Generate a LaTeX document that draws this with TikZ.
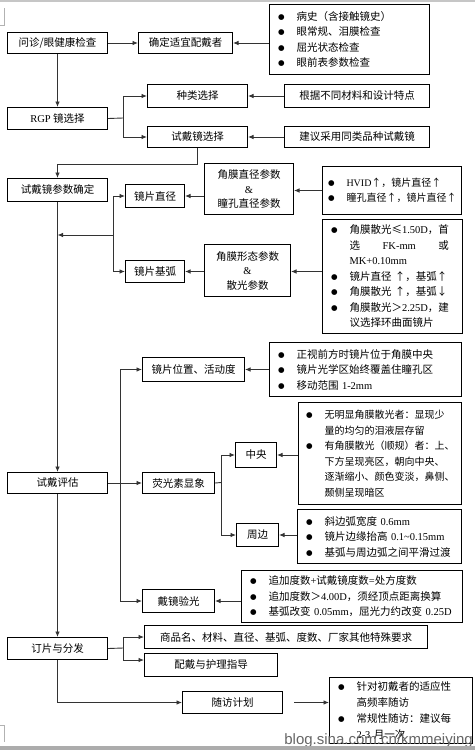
\documentclass[tikz,border=0pt]{standalone}
\usepackage{fontspec}
\setmainfont{Noto Sans CJK SC}
\newfontfamily\tmf{Liberation Serif}
\newfontfamily\dvf{DejaVu Sans}
\newfontfamily\wmf{Liberation Sans}
\usetikzlibrary{arrows.meta}
\newcommand\tm[1]{{\tmf #1}}
\newlength\jl
\newcommand\bul{\makebox[19pt][l]{\hspace{0.5pt}\raisebox{1pt}{\dvf\fontsize{7.5}{7.5}\selectfont ●}}}
\newcommand\ind{\hspace*{19pt}}
\tikzset{
  box/.style={draw=black, line width=1pt, inner sep=0pt, anchor=north west, align=center,
    font=\fontsize{10.5}{15.5}\selectfont},
  blist/.style={box, align=left, inner xsep=8pt},
  conn/.style={draw=black!80, line width=0.9pt},
  arr/.style={conn, -{Latex[length=5.5pt,width=4.5pt]}},
}
\begin{document}
\begin{tikzpicture}[x=1pt,y=-1pt]
\useasboundingbox (0,0) rectangle (475,750);
\clip (0,0) rectangle (475,750);
\fill[white] (0,0) rectangle (475,750);
% page artefacts
\draw[gray!45, line width=1.5pt] (0,0.75) -- (475,0.75);
\draw[gray!60, line width=0.6pt] (4,8) -- (4,25) -- (0,25);
\draw[gray!60, line width=0.6pt] (0,725) -- (4,725) -- (4,742);

% boxes
\node[box, minimum width=100pt, minimum height=21pt] (A) at (7,32) {问诊/眼健康检查};
\node[box, minimum width=94pt, minimum height=21pt] (B) at (138,32) {确定适宜配戴者};
\node[blist, text width=144pt, minimum height=70pt] (C) at (269,4)
  {\bul 病史（含接触镜史）\\ \bul 眼常规、泪膜检查\\ \bul 屈光状态检查\\ \bul 眼前表参数检查};
\node[box, minimum width=100pt, minimum height=22pt] (D) at (7,107) {\tm{RGP} 镜选择};
\node[box, minimum width=100pt, minimum height=23pt] (E) at (147,84) {种类选择};
\node[box, minimum width=100pt, minimum height=21pt] (F) at (147,126) {试戴镜选择};
\node[box, minimum width=145pt, minimum height=23pt] (G) at (284,84) {根据不同材料和设计特点};
\node[box, minimum width=145pt, minimum height=21pt] (H) at (284,126) {建议采用同类品种试戴镜};
\node[box, minimum width=100pt, minimum height=23pt] (I) at (7,178) {试戴镜参数确定};
\node[box, minimum width=59pt, minimum height=23pt] (J) at (125,184) {镜片直径};
\node[box, minimum width=59pt, minimum height=22pt] (K) at (125,260) {镜片基弧};
\node[box, minimum width=89pt, minimum height=51pt, font=\fontsize{10.5}{14.5}\selectfont] (L) at (204,163)
  {角膜直径参数\\ \tm{\&}\\ 瞳孔直径参数};
\node[blist, inner xsep=5pt, text width=129pt, minimum height=48pt, font=\fontsize{10}{15.5}\selectfont] (M) at (322,166)
  {\bul \tm{HVID}↑，镜片直径↑\\ \bul 瞳孔直径↑，镜片直径↑};
\node[box, minimum width=86pt, minimum height=52pt, font=\fontsize{10.5}{14.5}\selectfont] (N) at (204,244)
  {角膜形态参数\\ \tm{\&}\\ 散光参数};
\node[blist, text width=124pt, minimum height=114pt] (O) at (322,219)
  {\settowidth{\jl}{角膜散光≤\tm{1.50D}，首}%
   \bul 角膜散光≤\tm{1.50D}，首\\
   \ind\makebox[\jl][s]{选\hfill\tm{FK-mm}\hfill 或}\\
   \ind\tm{MK+0.10mm}\\
   \bul 镜片直径 ↑，基弧↑\\
   \bul 角膜散光 ↑，基弧↓\\
   \bul \makebox[\jl][s]{角膜散光＞\hfill\tm{2.25D}，\hfill 建}\\
   \ind 议选择环曲面镜片};
\node[box, minimum width=102pt, minimum height=24pt] (P) at (142,357) {镜片位置、活动度};
\node[blist, text width=176pt, minimum height=54pt] (Q) at (269,342)
  {\bul 正视前方时镜片位于角膜中央\\ \bul 镜片光学区始终覆盖住瞳孔区\\ \bul 移动范围 \tm{1-2mm}};
\node[box, minimum width=100pt, minimum height=21pt] (R) at (7,472) {试戴评估};
\node[box, minimum width=72pt, minimum height=21pt] (S) at (142,472) {荧光素显象};
\node[box, minimum width=41pt, minimum height=25pt] (T) at (235,442) {中央};
\node[blist, inner xsep=7pt, text width=149pt, minimum height=102pt, font=\fontsize{10}{15.5}\selectfont] (U) at (298,402)
  {\bul 无明显角膜散光者：显现少\\
   \ind 量的均匀的泪液层存留\\
   \bul 有角膜散光（顺规）者：上、\\
   \ind 下方呈现亮区，朝向中央、\\
   \ind 逐渐缩小、颜色变淡，鼻侧、\\
   \ind 颞侧呈现暗区};
\node[box, minimum width=42pt, minimum height=23pt] (V) at (236,523) {周边};
\node[blist, text width=148pt, minimum height=54pt] (W) at (297,509)
  {\bul 斜边弧宽度 \tm{0.6mm}\\ \bul 镜片边缘抬高 \tm{0.1\textasciitilde0.15mm}\\ \bul 基弧与周边弧之间平滑过渡};
\node[box, minimum width=72pt, minimum height=23pt] (X) at (142,589) {戴镜验光};
\node[blist, text width=205pt, minimum height=52pt] (Y) at (241,570)
  {\bul 追加度数\tm{+}试戴镜度数\tm{=}处方度数\\
   \bul 追加度数＞\tm{4.00D}，须经顶点距离换算\\
   \bul 基弧改变 \tm{0.05mm}，屈光力约改变 \tm{0.25D}};
\node[box, minimum width=100pt, minimum height=22pt] (Z) at (7,637) {订片与分发};
\node[box, minimum width=283pt, minimum height=23pt] (AA) at (144,625) {商品名、材料、直径、基弧、度数、厂家其他特殊要求};
\node[box, minimum width=133pt, minimum height=23pt] (AB) at (144,653) {配戴与护理指导};
\node[box, minimum width=100pt, minimum height=22pt] (AC) at (182,691) {随访计划};
\node[blist, text width=127pt, inner ysep=4pt, font=\fontsize{10.5}{16}\selectfont] (AD) at (329,677)
  {\bul 针对初戴者的适应性\\ \ind 高频率随访\\ \bul 常规性随访：建议每\\ \ind \tm{2-3} 月一次};

% connectors
\draw[arr] (A.east) -- (B.west);
\draw[arr] (C.west |- B.east) -- (B.east);
\draw[arr] (A.south) -- (D.north);
\coordinate (d1) at (123,118);
\draw[conn] (D.east) -- (d1);
\draw[arr] (d1) |- (E.west);
\draw[arr] (d1) |- (F.west);
\draw[arr] (G.west) -- (E.east);
\draw[arr] (H.west) -- (F.east);
\draw[arr] (F.south) -- ++(0,16) -| (I.north);
\draw[arr] (I.south) -- (R.north);
\coordinate (b1) at (113,235);
\draw[arr] (b1) -- (b1 -| I.south);
\draw[arr] (b1) |- (J.west);
\draw[arr] (b1) |- (K.west);
\draw[arr] (L.west |- J.east) -- (J.east);
\draw[arr] (M.west) -- (M.west -| L.east);
\draw[arr] (N.west |- K.east) -- (K.east);
\draw[arr] (O.west |- K.east) -- (N.east |- K.east);
\draw[arr] (R.east) -- (S.west);
\coordinate (b2) at (120,482.5);
\draw[arr] (b2) |- (P.west);
\draw[arr] (b2) |- (X.west);
\draw[arr] (Q.west |- P.east) -- (P.east);
\coordinate (b3) at (221,482.5);
\draw[conn] (S.east) -- (b3);
\draw[arr] (b3) |- (T.west);
\draw[arr] (b3) |- (V.west);
\draw[arr] (U.west |- T.east) -- (T.east);
\draw[arr] (W.west |- V.east) -- (V.east);
\draw[arr] (Y.west |- X.east) -- (X.east);
\draw[arr] (R.south) -- (Z.north);
\coordinate (b4) at (123,648);
\draw[conn] (Z.east) -- (b4);
\draw[arr] (b4) |- (AA.west);
\draw[arr] (b4) |- ([yshift=5pt]AB.west);
\draw[arr] (Z.south) |- (AC.west);
\draw[arr] ([xshift=11pt]AC.east) -- (AD.west |- AC.east);

% watermark and bottom band
\node[anchor=base east, inner sep=0pt, text=black!60, font=\wmf\fontsize{15}{15}\selectfont] (wm) at (473,744) {blog.sina.com.cn/kmmeiying};
\fill[gray!65] (0,746) rectangle (475,750);
\end{tikzpicture}
\end{document}
